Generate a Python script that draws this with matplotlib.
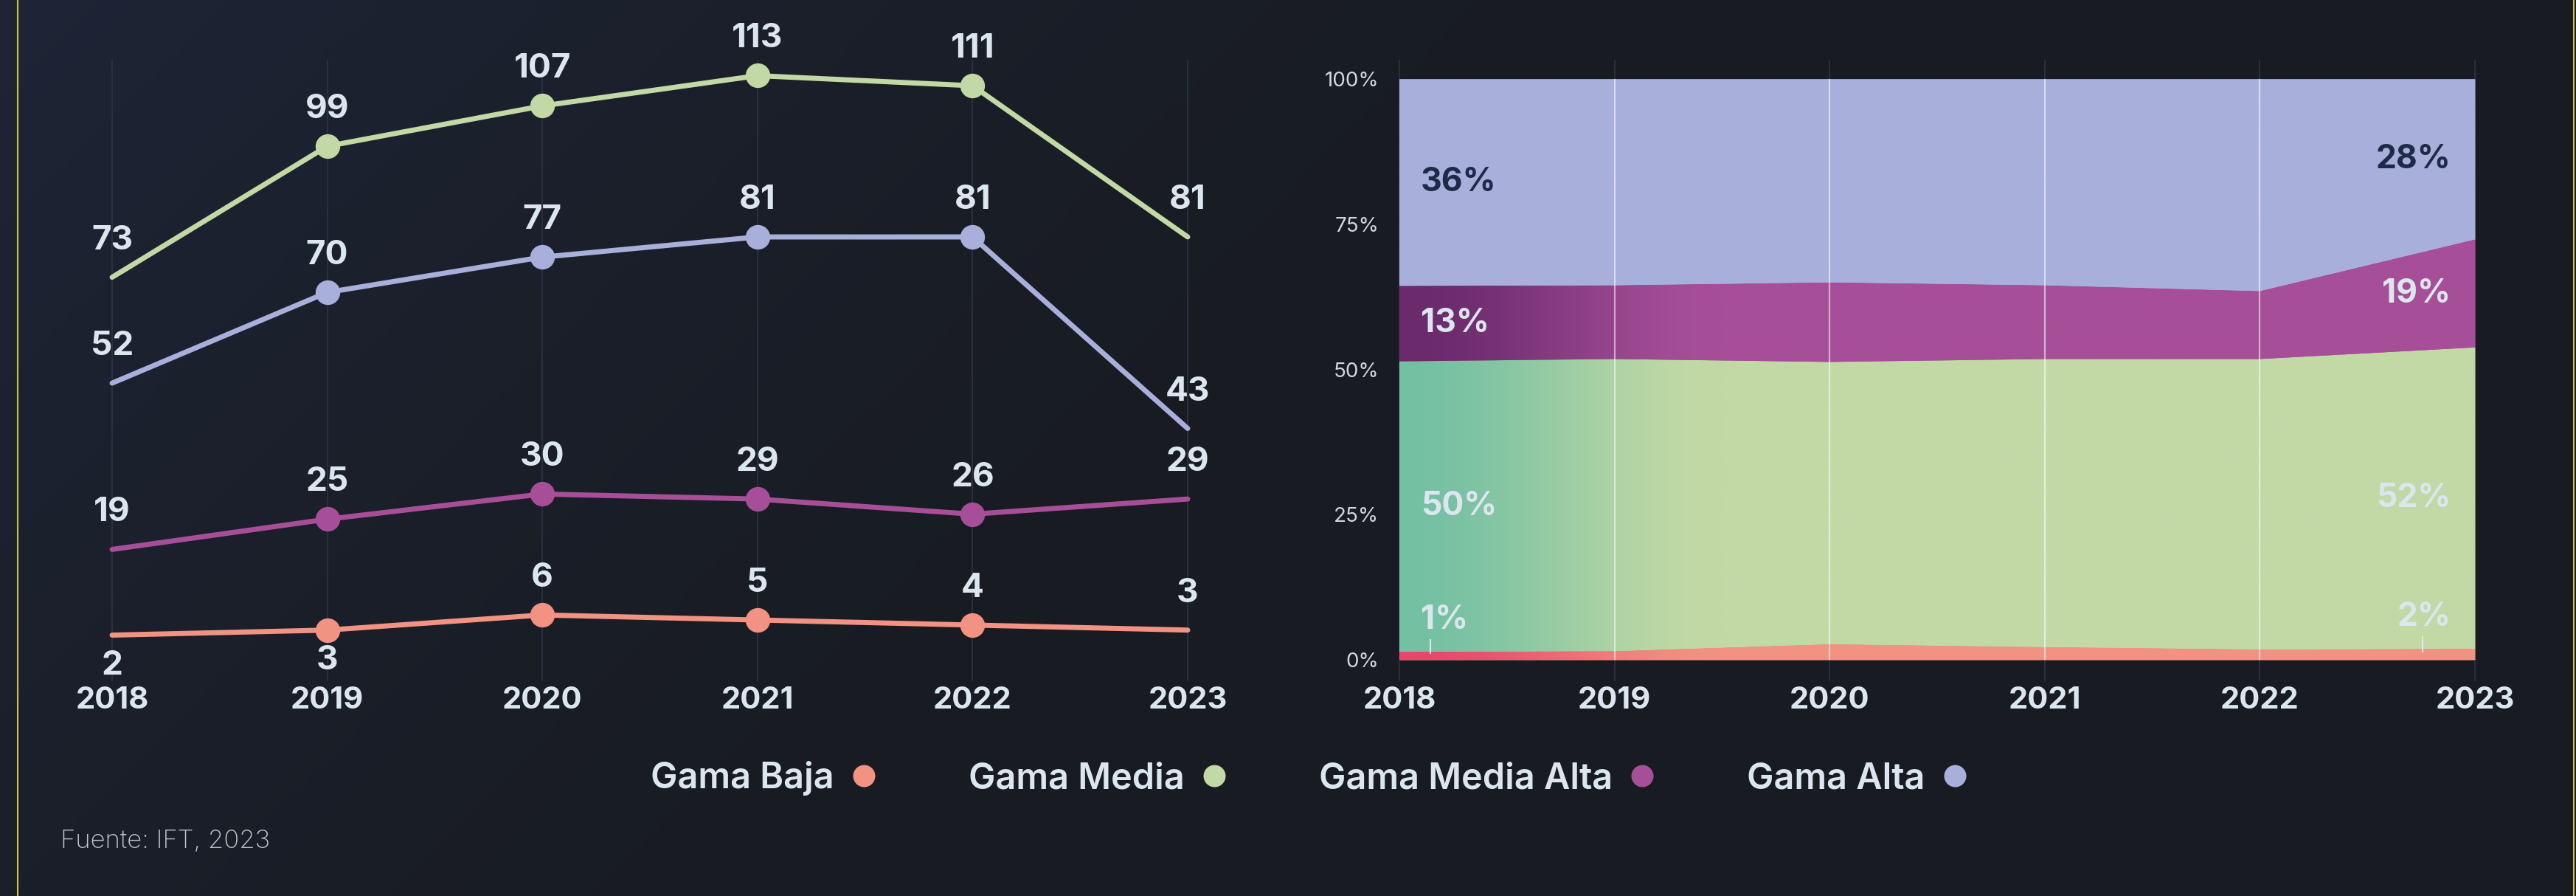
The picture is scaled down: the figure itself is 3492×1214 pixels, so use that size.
import numpy as np
import matplotlib.pyplot as plt
from matplotlib.colors import to_rgb
from matplotlib.lines import Line2D

plt.rcParams["font.family"] = ["Inter", "DejaVu Sans"]

# --- Datos ---
years = [2018, 2019, 2020, 2021, 2022, 2023]
series = ["Gama Baja", "Gama Media", "Gama Media Alta", "Gama Alta"]

# millones de equipos por gama
gama_baja = [2, 3, 6, 5, 4, 3]
gama_media = [73, 99, 107, 113, 111, 81]
gama_media_alta = [19, 25, 30, 29, 26, 29]
gama_alta = [52, 70, 77, 81, 81, 43]

# participación (%) por año
share_baja = [1.4, 1.5, 2.7, 2.2, 1.8, 1.9]
share_media = [50.0, 50.3, 48.6, 49.6, 50.0, 51.9]
share_media_alta = [13.0, 12.7, 13.7, 12.7, 11.7, 18.6]
share_alta = [35.6, 35.5, 35.0, 35.5, 36.5, 27.6]

counts = dict(zip(series, [gama_baja, gama_media, gama_media_alta, gama_alta]))
shares = np.array([share_baja, share_media, share_media_alta, share_alta])

# --- Estilo ---
colors = {
    "Gama Baja": "#f29282",
    "Gama Media": "#c2d9a6",
    "Gama Media Alta": "#a64f98",
    "Gama Alta": "#a8afdb",
}
grad_start = {
    "Gama Baja": "#e8466a",
    "Gama Media": "#74c0a3",
    "Gama Media Alta": "#6a2a6c",
    "Gama Alta": "#a8afdb",
}
txt = "#dce6ee"
dark_txt = "#1f2a48"
grid = "#2c3444"

W, H = 3492, 1214
fig = plt.figure(figsize=(W / 100, H / 100), dpi=100)

# fondo con degradado diagonal
bg = fig.add_axes([0, 0, 1, 1], zorder=-10)
xx, yy = np.meshgrid(np.linspace(0, 1, 500), np.linspace(0, 1, 180))
t = np.clip((xx * 2.9 + yy) / 1.9, 0, 1) ** 0.8
c0, c1 = np.array(to_rgb("#1e2537")), np.array(to_rgb("#181b21"))
bg.imshow(c0 + (c1 - c0) * t[..., None], aspect="auto", extent=[0, 1, 0, 1])
bg.set_axis_off()

# bordes amarillos
for xf in (24 / W, 3489 / W):
    fig.add_artist(Line2D([xf, xf], [0, 1], transform=fig.transFigure,
                          color="#c9c83d", lw=1.5))

ax_rect = dict(bottom=(H - 922) / H, height=840 / H, width=1458 / W)

# --- Gráfico 1: líneas ---
ax1 = fig.add_axes([152 / W, ax_rect["bottom"], ax_rect["width"], ax_rect["height"]])
ax1.set_facecolor("none")
ax1.set_xlim(2018, 2023)
ax1.set_ylim(-7, 116)
for y in years:
    ax1.axvline(y, color=grid, lw=1.2, zorder=0, clip_on=False)

for name in series:
    vals = counts[name]
    ax1.plot(years, vals, color=colors[name], lw=5, solid_capstyle="round",
             marker="o", markevery=[1, 2, 3, 4], ms=23, zorder=3, clip_on=False)
    for x, v in zip(years, vals):
        dy = -30 if (name == "Gama Baja" and x < 2020) else 36
        ax1.annotate(str(v), (x, v), xytext=(0, dy), textcoords="offset points",
                     ha="center", va="center", fontsize=33, fontweight="bold",
                     color=txt, zorder=5)

# --- Gráfico 2: áreas apiladas al 100% ---
ax2 = fig.add_axes([1897 / W, ax_rect["bottom"], ax_rect["width"], ax_rect["height"]])
ax2.set_facecolor("none")
for y in years:
    ax2.axvline(y, color=grid, lw=1.2, zorder=0, clip_on=False)

cum = np.cumsum(shares, axis=0)
xs = np.linspace(2018, 2023, 800)
ramp = np.clip((xs - 2018) / 1.5, 0, 1)
ramp = ramp * ramp * (3 - 2 * ramp)
lower = np.zeros(len(years))
for i, name in enumerate(series):
    poly = ax2.fill_between(years, lower, cum[i], color=colors[name], lw=0, zorder=2)
    a, b = np.array(to_rgb(grad_start[name])), np.array(to_rgb(colors[name]))
    img = (a + (b - a) * ramp[:, None])[None, :, :]
    im = ax2.imshow(img, extent=[2018, 2023, 0, 100], aspect="auto",
                    interpolation="bilinear", zorder=2.1)
    im.set_clip_path(poly.get_paths()[0], ax2.transData)
    lower = cum[i]

ax2.vlines(years[1:-1], 0, cum[-1][1:-1], color="white", alpha=0.55, lw=1.6, zorder=4)
ax2.set_xlim(2018, 2023)
ax2.set_ylim(-3.56, 103.2)

# etiquetas de participación en los extremos
mid = cum - shares / 2
ends = [(0, 2018.1, "left", 2018.144), (5, 2022.887, "right", 2022.757)]
for i, name in enumerate(series):
    col = dark_txt if name == "Gama Alta" else txt
    for j, xt, ha, xl in ends:
        label = f"{round(shares[i][j])}%"
        if name == "Gama Baja":
            ytxt = cum[i][j] + 5.5
            ax2.vlines(xl, cum[i][j] * 0.7, cum[i][j] + 2.2, color=txt, lw=1.5, zorder=5)
        else:
            ytxt = mid[i][j]
        ax2.text(xt, ytxt, label, ha=ha, va="center", fontsize=32,
                 fontweight="bold", color=col, zorder=6)

ax2.set_yticks([0, 25, 50, 75, 100])
ax2.set_yticklabels(["0%", "25%", "50%", "75%", "100%"])
ax2.tick_params(axis="y", length=0, pad=20, labelsize=20, labelcolor="#cfd8e0")

for ax in (ax1, ax2):
    ax.set_xticks(years)
    ax.set_xticklabels([str(y) for y in years], fontweight="bold")
    ax.tick_params(axis="x", length=0, pad=6, labelsize=30, labelcolor=txt)
    for s in ax.spines.values():
        s.set_visible(False)
ax1.set_yticks([])

# --- Leyenda ---
handles = [Line2D([], [], ls="none", marker="o", ms=21.6, mfc=colors[n], mec="none")
           for n in series]
fig.legend(handles, series, loc="center", bbox_to_anchor=(0.508, 0.131), ncol=4,
           frameon=False, markerfirst=False, handlelength=0.65, handletextpad=0.5,
           columnspacing=2.6, labelcolor=txt, prop={"size": 35, "weight": "semibold"})

fig.text(82 / W, (H - 1140) / H, "Fuente: IFT, 2023", fontsize=25,
         fontweight="light", color="#bcc4cc", va="center")

fig.savefig("out.png", dpi=100)
